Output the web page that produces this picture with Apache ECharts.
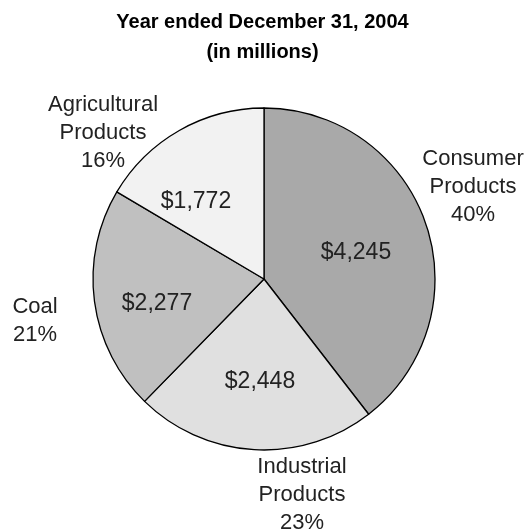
<!DOCTYPE html>
<html>
<head>
<meta charset="utf-8">
<script src="https://cdn.jsdelivr.net/npm/echarts@6/dist/echarts.min.js"></script>
<style>html,body{margin:0;padding:0;background:#fff}#c{width:525px;height:531px}</style>
</head>
<body>
<div id="c"></div>
<script>
const categories = ['Consumer\nProducts', 'Industrial\nProducts', 'Coal', 'Agricultural\nProducts'];
const values = [4245, 2448, 2277, 1772];
const percents = [40, 23, 21, 16];
const valueLabels = ['$4,245', '$2,448', '$2,277', '$1,772'];
const colors = ['#a9a9a9', '#e0e0e0', '#c0c0c0', '#f2f2f2'];
const outerLabelPos = [[473, 187], [302, 495], [35, 321], [103, 133]];
const innerLabelPos = [[356, 253], [260, 382], [157, 304], [196, 202]];

const chart = echarts.init(document.getElementById('c'));
const FONT = '"Liberation Sans", Arial, sans-serif';
const base = categories.map((n, i) => ({ name: n, value: values[i] }));

chart.setOption({
  animation: false,
  title: {
    text: 'Year ended December 31, 2004\n(in millions)',
    left: 'center',
    top: 2,
    textStyle: { fontFamily: FONT, fontSize: 20, fontWeight: 'bold', color: '#000', lineHeight: 30 }
  },
  series: [
    {
      type: 'pie',
      center: [264, 279],
      radius: 171,
      startAngle: 90,
      clockwise: true,
      data: base.map((d, i) => ({ ...d, itemStyle: { color: colors[i] } })),
      itemStyle: { borderColor: '#000', borderWidth: 1.3 },
      label: {
        show: true,
        position: 'inside',
        overflow: 'none',
        formatter: p => valueLabels[p.dataIndex],
        fontFamily: FONT, fontSize: 23, color: '#222'
      },
      labelLayout: p => ({ x: innerLabelPos[p.dataIndex][0], y: innerLabelPos[p.dataIndex][1], align: 'center', verticalAlign: 'middle' }),
      emphasis: { disabled: true }
    },
    {
      type: 'pie',
      center: [264, 279],
      radius: 171,
      startAngle: 90,
      clockwise: true,
      silent: true,
      data: base,
      itemStyle: { color: 'rgba(0,0,0,0)', borderWidth: 0 },
      label: {
        show: true,
        position: 'inside',
        overflow: 'none',
        formatter: p => p.name + '\n' + percents[p.dataIndex] + '%',
        fontFamily: FONT, fontSize: 22, color: '#222', lineHeight: 28, align: 'center'
      },
      labelLine: { show: false },
      labelLayout: p => ({ x: outerLabelPos[p.dataIndex][0], y: outerLabelPos[p.dataIndex][1], align: 'center', verticalAlign: 'middle' }),
      emphasis: { disabled: true }
    }
  ]
});
</script>
</body>
</html>
